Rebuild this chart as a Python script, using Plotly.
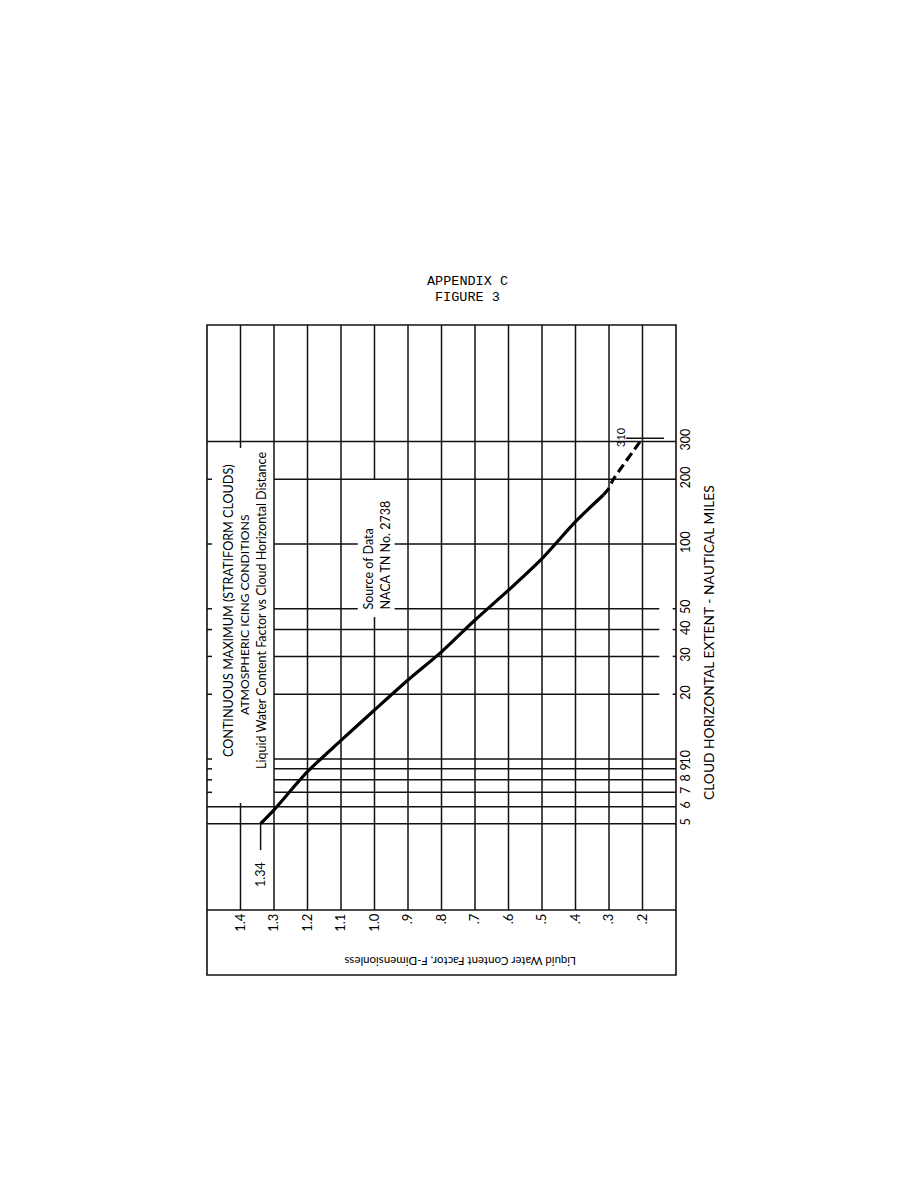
import plotly.graph_objects as go

# ---------------- data ----------------
F_TICKS = [1.4, 1.3, 1.2, 1.1, 1.0, 0.9, 0.8, 0.7, 0.6, 0.5, 0.4, 0.3, 0.2]
F_LABELS = ["1.4", "1.3", "1.2", "1.1", "1.0", ".9", ".8", ".7", ".6", ".5", ".4", ".3", ".2"]
D_TICKS = [5, 6, 7, 8, 9, 10, 20, 30, 40, 50, 100, 200, 300]
D_LABELS = ["5", "6", "7", "8", "9", "10", "20", "30", "40", "50", "100", "200", "300"]

# curve: cloud horizontal extent (nautical miles) vs factor F
SOLID_D = [5, 5.8, 8.73, 12.2, 16.9, 23.3, 31.5, 44.3, 61, 85.5, 127, 169]
SOLID_F = [1.34, 1.3, 1.2, 1.1, 1.0, 0.9, 0.8, 0.7, 0.6, 0.5, 0.4, 0.317]
DASH_D = [169, 182, 200, 310]
DASH_F = [0.317, 0.3, 0.287, 0.20]

START_LABEL = "1.34"
END_LABEL = "310"

# ---------------- layout geometry ----------------
W, H = 918, 1188
OFF = 8                                  # page body margin of the browser
PL, PR, PT, PB = 207, 676, 325, 910      # plot area in page pixels
F_RANGE = [1.5, 0.1]                     # reversed factor axis
LOG_RANGE = [0.2977, 3.0186]             # log10 of distance range
Y_LO, Y_HI = 10 ** LOG_RANGE[0], 10 ** LOG_RANGE[1]


def px(xp):
    return (xp - PL) / (PR - PL)


def py(yp):
    return (PB - yp) / (PB - PT)


gx, gy = [], []


def seg(x0, x1, y0, y1):
    gx.extend([x0, x1, None])
    gy.extend([y0, y1, None])


# horizontal grid lines (distance)
for d in D_TICKS:
    if d in (5, 6, 300):
        seg(1.5, 0.1, d, d)
    elif d in (20, 30, 40):
        seg(1.3, 0.15, d, d)
        seg(1.5, 1.485, d, d)
        seg(0.11, 0.1, d, d)
    elif d == 50:
        seg(1.3, 1.05, d, d)
        seg(0.94, 0.15, d, d)
        seg(1.5, 1.485, d, d)
        seg(0.11, 0.1, d, d)
    elif d == 100:
        seg(1.3, 1.05, d, d)
        seg(0.94, 0.1, d, d)
        seg(1.5, 1.485, d, d)
    else:
        seg(1.3, 0.1, d, d)
        seg(1.5, 1.485, d, d)

# vertical grid lines (factor)
for f in F_TICKS:
    if f == 1.4:
        seg(f, f, Y_LO, 6.24)
        seg(f, f, 279.6, Y_HI)
    elif f == 1.0:
        seg(f, f, Y_LO, 45.7)
        seg(f, f, 200, Y_HI)
    else:
        seg(f, f, Y_LO, Y_HI)

# leader lines for the end labels
seg(SOLID_F[0], SOLID_F[0], SOLID_D[0], 3.77)
seg(0.249, 0.136, DASH_D[-1], DASH_D[-1])

fig = go.Figure()
fig.add_trace(go.Scatter(x=gx, y=gy, mode="lines",
                         line=dict(color="#111111", width=1.5),
                         hoverinfo="skip", showlegend=False))
fig.add_trace(go.Scatter(x=SOLID_F, y=SOLID_D, mode="lines",
                         line=dict(color="#000000", width=3.2, shape="spline", smoothing=0.8),
                         showlegend=False))
fig.add_trace(go.Scatter(x=DASH_F, y=DASH_D, mode="lines",
                         line=dict(color="#000000", width=3.2, dash="9px,5px",
                                   shape="spline", smoothing=0.6),
                         showlegend=False))

FONT = "Lato"
fig.update_layout(
    width=W, height=H,
    margin=dict(l=PL - OFF, r=W - (PR - OFF), t=PT - OFF, b=H - (PB - OFF), pad=0),
    paper_bgcolor="white", plot_bgcolor="white",
    showlegend=False,
    xaxis=dict(range=F_RANGE, tickvals=F_TICKS, ticktext=F_LABELS,
               tickangle=-90, showgrid=False, zeroline=False, showline=False,
               ticks="", tickfont=dict(family=FONT, size=13, color="#000")),
    yaxis=dict(type="log", range=LOG_RANGE, side="right",
               tickvals=D_TICKS, ticktext=D_LABELS, tickangle=-90,
               showgrid=False, zeroline=False, showline=False, ticks="",
               tickfont=dict(family=FONT, size=12.5, color="#000")),
)

# frame
fig.add_shape(type="rect", xref="paper", yref="paper",
              x0=0, x1=1, y0=py(975), y1=1,
              line=dict(color="#111", width=1.6))
fig.add_shape(type="line", xref="paper", yref="paper",
              x0=0, x1=1, y0=0, y1=0,
              line=dict(color="#111", width=1.6))


def ann(text, xp, yp, size, angle=-90, family=FONT, xanchor="center", yanchor="middle"):
    fig.add_annotation(text=text, xref="paper", yref="paper",
                       x=px(xp), y=py(yp), showarrow=False,
                       textangle=angle, xanchor=xanchor, yanchor=yanchor,
                       font=dict(family=family, size=size, color="#000"))


ann("CONTINUOUS MAXIMUM (STRATIFORM CLOUDS)", 228, 611, 12.6)
ann("ATMOSPHERIC ICING CONDITIONS", 244, 615, 12.2)
ann("Liquid Water Content Factor vs Cloud Horizontal Distance", 261, 611, 12.5)
ann("Source of Data", 368, 612, 12.5, yanchor="bottom")
ann("NACA TN No. 2738", 385, 612, 12.5, yanchor="bottom")
ann("CLOUD HORIZONTAL EXTENT - NAUTICAL MILES", 708, 643, 13.8)
ann("Liquid Water Content Factor, F-Dimensionless", 460, 962, 11.5, angle=180)
ann(START_LABEL, 260, 875, 12.5)
ann(END_LABEL, 620, 437, 11)
ann("APPENDIX C", 467, 281, 13.5, angle=0, family="Liberation Mono")
ann("FIGURE 3", 467, 298, 13.5, angle=0, family="Liberation Mono")

fig.write_html("out.html")
